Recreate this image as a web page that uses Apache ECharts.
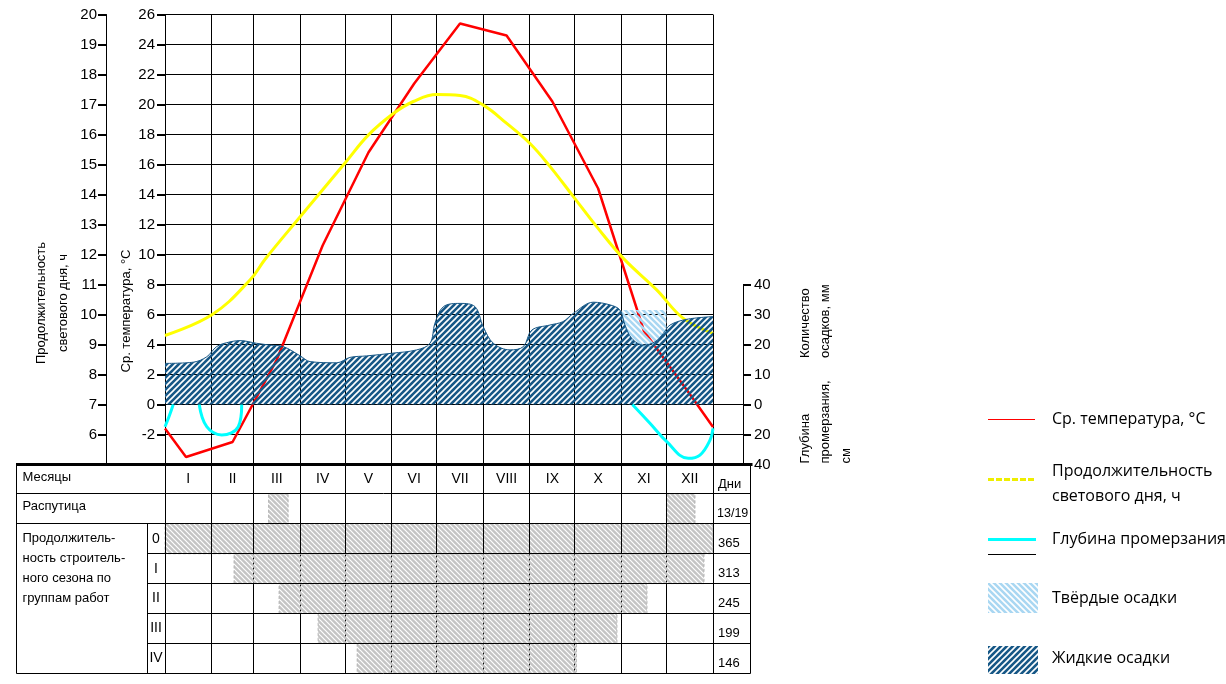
<!DOCTYPE html>
<html><head><meta charset="utf-8">
<script src="https://cdn.jsdelivr.net/npm/echarts@6/dist/echarts.min.js"></script>
<style>html,body{margin:0;padding:0;background:#fff}#c{width:1226px;height:684px}</style>
</head><body><div id="c"></div>
<script>
// ---------------- DATA ----------------
const monthLabels = ['I','II','III','IV','V','VI','VII','VIII','IX','X','XI','XII'];
const monthDays = [31,28,31,30,31,30,31,31,30,31,30,31];

// Average temperature, °C (day of year -> value)
const tempDays   = [0, 14, 45, 74.5, 105, 135.5, 166, 196.5, 227.5, 258, 288.5, 319, 349.5, 365];
const tempValues = [-1.6, -3.5, -2.5, 3.0, 10.6, 16.8, 21.4, 25.4, 24.6, 20.2, 14.4, 4.9, 0.7, -1.5];

// Day length, h
const dayLenDays   = [0, 31.5, 56.6, 66.8, 89.9, 119.9, 135.4, 152.1, 165.4, 181, 196.5, 212, 227.6, 243.1, 256.5, 272, 287.5, 305.3, 327.5, 345.2, 365];
const dayLenValues = [9.3, 10.0, 11.15, 11.85, 13.25, 15.05, 15.98, 16.7, 17.1, 17.33, 17.3, 16.98, 16.37, 15.7, 14.93, 13.93, 12.93, 11.87, 10.82, 9.87, 9.37];

// Liquid precipitation, mm
const precipDays   = [0, 18.8, 27.8, 34.4, 41.1, 50, 61, 70, 78.8, 90.1, 96.6, 114.4, 123.2, 134.3, 151.4, 167.6, 176.5, 179.8, 185.4, 196.5, 206.5, 212, 218.7, 229.8, 238.7, 244.3, 256.4, 265, 272, 285.3, 296.4, 303, 306.4, 310.8, 318.6, 326.4, 331.9, 336.4, 347.5, 365];
const precipValues = [13.7, 14.1, 15.9, 19.3, 20.6, 21.3, 20.4, 19.8, 19.3, 16.2, 14.3, 13.9, 15.7, 16.2, 17.1, 18.2, 20.4, 27.1, 32.6, 33.7, 32.6, 25.9, 20.4, 18.2, 19.3, 24.8, 26.5, 27.6, 30.4, 34.1, 33.2, 31.5, 26.5, 22.1, 19.8, 20.9, 23.7, 26.5, 28.4, 29.3];

// Solid precipitation (November block), mm
const solidDays  = [304, 334];
const solidLevel = [31.5];

// Frost depth, cm (null = no frozen layer shown)
const frostDays   = [0, 2.7, 5.5, 14, 22.8, 27.8, 37.8, 48.8, 51.1, 200, 311.3, 323, 334.2, 348.5, 356.3, 363, 365];
const frostValues = [14.8, 8, 0, null, 0, 14.8, 20.3, 14.8, 0, null, 0, 12.5, 24.8, 35.9, 33.7, 23.7, 15.9];

// Table: thaw season (распутица) and construction season by work groups
const raspStart    = [69, 334];
const raspDuration = [13, 19];
const groupLabels    = ['0','I','II','III','IV'];
const seasonStart    = [0, 46, 76, 102, 128];
const seasonDuration = [365, 313, 245, 199, 146];

// Axis tick values (left axes)
const tempTicks   = [-2, 0, 2, 4, 6, 8, 10, 12, 14, 16, 18, 20, 22, 24, 26];
const dayLenTicks = [6, 7, 8, 9, 10, 11, 12, 13, 14, 15, 16, 17, 18, 19, 20];

// ---------------- LAYOUT ----------------
const P_LEFT = 165, P_RIGHT = 713, P_TOP = 14.5, P_BOTTOM = 464.5;
const T_LEFT = 16, T_RIGHT = 750, T_TOP = 464, T_BOTTOM = 673.3, GROUP_X = 147;
const DAY_AXIS_OFFSET = 59, TICK_LEN = 8;
const W = 1226, H = 684;
const SCALE = (P_RIGHT - P_LEFT) / 365;
const tMin = -(P_LEFT - T_LEFT) / SCALE, tMax = 365 + (T_RIGHT - P_RIGHT) / SCALE;
const FONT = "'Liberation Sans','DejaVu Sans',sans-serif";
const LFONT = "'Open Sans','Noto Sans',sans-serif";

const monthBounds = [0];
monthDays.forEach(d => monthBounds.push(monthBounds[monthBounds.length - 1] + d));
const monthMids = monthLabels.map((m, i) => (monthBounds[i] + monthBounds[i + 1]) / 2);

function hatch(color, dir, size, lw) {
  const c = document.createElement('canvas'); c.width = c.height = size;
  const ctx = c.getContext('2d');
  ctx.fillStyle = color; ctx.fillRect(0, 0, size, size);
  ctx.globalCompositeOperation = 'destination-out';
  ctx.lineWidth = lw; ctx.strokeStyle = '#000'; ctx.beginPath();
  if (dir === '/') {
    ctx.moveTo(-2, 2); ctx.lineTo(2, -2);
    ctx.moveTo(-1, size + 1); ctx.lineTo(size + 1, -1);
    ctx.moveTo(size - 2, size + 2); ctx.lineTo(size + 2, size - 2);
  } else {
    ctx.moveTo(-2, size - 2); ctx.lineTo(2, size + 2);
    ctx.moveTo(-1, -1); ctx.lineTo(size + 1, size + 1);
    ctx.moveTo(size - 2, -2); ctx.lineTo(size + 2, 2);
  }
  ctx.stroke();
  return c;
}
const darkPat  = { image: hatch('#165786', '/', 6, 1.6), repeat: 'repeat' };
const lightPat = { image: hatch('#a9d7f2', '\\', 6, 1.6), repeat: 'repeat' };
const greyPat  = { image: hatch('#c4c4c4', '\\', 5, 1.2), repeat: 'repeat' };

const crisp = v => Math.round(v - 0.5) + 0.5;
function L(x1, y1, x2, y2, w, dash, color) {
  return { type: 'line', shape: { x1, y1, x2, y2 },
    style: { stroke: color || '#000', lineWidth: w || 1, lineDash: dash || null } };
}
function T(x, y, text, align, vAlign, size, extra) {
  return { type: 'text', x, y, style: Object.assign({ text, align: align || 'left',
    verticalAlign: vAlign || 'middle', fontSize: size || 13, fontFamily: FONT, fill: '#000' }, extra || {}) };
}

function liquidAt(d) {
  for (let i = 0; i < precipDays.length - 1; i++) {
    if (d >= precipDays[i] && d <= precipDays[i + 1]) {
      const t = (d - precipDays[i]) / (precipDays[i + 1] - precipDays[i]);
      return precipValues[i] + t * (precipValues[i + 1] - precipValues[i]);
    }
  }
  return precipValues[precipValues.length - 1];
}

const chart = echarts.init(document.getElementById('c'), null, { renderer: 'canvas' });

const axisLbl = () => ({ fontSize: 15, fontFamily: FONT, color: '#000' });
const tick = () => ({ show: true, inside: false, interval: 0, length: TICK_LEN, lineStyle: { color: '#000', width: 2 } });
const axLine = () => ({ show: true, onZero: false, lineStyle: { color: '#000', width: 1 } });

// Left-axis tick marks: positions follow the same linear layout the axes use
const tempMin = -4, tempMax = 26, dayMin = 5, dayMax = 20;
const yOfTemp = v => P_TOP + (tempMax - v) / (tempMax - tempMin) * (P_BOTTOM - P_TOP);
const yOfDay  = v => P_TOP + (dayMax - v) / (dayMax - dayMin) * (P_BOTTOM - P_TOP);
const tickEls = [];
tempTicks.forEach(v => tickEls.push({ type: 'rect', z: 100, shape: { x: P_LEFT - TICK_LEN, y: Math.round(yOfTemp(v)) - 1, width: TICK_LEN, height: 2 }, style: { fill: '#000' } }));
dayLenTicks.forEach(v => tickEls.push({ type: 'rect', z: 100, shape: { x: P_LEFT - DAY_AXIS_OFFSET - TICK_LEN, y: Math.round(yOfDay(v)) - 1, width: TICK_LEN, height: 2 }, style: { fill: '#000' } }));

const legendAndTitles = [
  { type: 'text', x: 52.5, y: 303, rotation: Math.PI / 2,
    style: { text: 'Продолжительность\nсветового дня, ч', align: 'center', verticalAlign: 'middle', lineHeight: 21.6, fontSize: 13, fontFamily: FONT, fill: '#000' } },
  { type: 'text', x: 126.7, y: 311, rotation: Math.PI / 2,
    style: { text: 'Ср. температура, °С', align: 'center', verticalAlign: 'middle', fontSize: 13, fontFamily: FONT, fill: '#000' } },
  { type: 'text', x: 815, y: 358, rotation: Math.PI / 2,
    style: { text: 'Количество\nосадков, мм', align: 'left', verticalAlign: 'middle', lineHeight: 20, fontSize: 13, fontFamily: FONT, fill: '#000' } },
  { type: 'text', x: 825.5, y: 463.5, rotation: Math.PI / 2,
    style: { text: 'Глубина\nпромерзания,\nсм', align: 'left', verticalAlign: 'middle', lineHeight: 20.5, fontSize: 13, fontFamily: FONT, fill: '#000' } },
  { type: 'line', shape: { x1: 988, y1: 419.5, x2: 1035, y2: 419.5 }, style: { stroke: '#ff0000', lineWidth: 1 } },
  { type: 'text', x: 1052, y: 419, style: { text: 'Ср. температура, °С', verticalAlign: 'middle', fontSize: 16, fontFamily: LFONT, fill: '#000' } },
  { type: 'line', shape: { x1: 988, y1: 479.5, x2: 1036, y2: 479.5 }, style: { stroke: '#eeee00', lineWidth: 3, lineDash: [6, 2] } },
  { type: 'text', x: 1052, y: 484, style: { text: 'Продолжительность\nсветового дня, ч', verticalAlign: 'middle', lineHeight: 25, fontSize: 16, fontFamily: LFONT, fill: '#000' } },
  { type: 'line', shape: { x1: 988, y1: 539.5, x2: 1036, y2: 539.5 }, style: { stroke: '#00ffff', lineWidth: 3 } },
  { type: 'line', shape: { x1: 988, y1: 554.5, x2: 1036, y2: 554.5 }, style: { stroke: '#000', lineWidth: 1 } },
  { type: 'text', x: 1052, y: 539, style: { text: 'Глубина промерзания', verticalAlign: 'middle', fontSize: 16, fontFamily: LFONT, fill: '#000' } },
  { type: 'rect', shape: { x: 988, y: 583, width: 50, height: 30 }, style: { fill: lightPat } },
  { type: 'text', x: 1052, y: 598, style: { text: 'Твёрдые осадки', verticalAlign: 'middle', fontSize: 16, fontFamily: LFONT, fill: '#000' } },
  { type: 'rect', shape: { x: 988, y: 646, width: 50, height: 28 }, style: { fill: darkPat } },
  { type: 'text', x: 1052, y: 658, style: { text: 'Жидкие осадки', verticalAlign: 'middle', fontSize: 16, fontFamily: LFONT, fill: '#000' } }
].concat(tickEls);

const option = {
  animation: false,
  backgroundColor: '#fff',
  grid: [
    { left: P_LEFT, right: W - P_RIGHT, top: P_TOP, height: P_BOTTOM - P_TOP, containLabel: false, outerBoundsMode: 'none' },
    { left: P_LEFT, right: W - P_RIGHT, top: 284.5, height: P_BOTTOM - 284.5, containLabel: false, outerBoundsMode: 'none' },
    { left: T_LEFT, right: W - T_RIGHT, top: T_TOP, height: T_BOTTOM - T_TOP, containLabel: false, outerBoundsMode: 'none' }
  ],
  xAxis: [
    { type: 'value', gridIndex: 0, min: 0, max: 365, show: false, axisLine: { onZero: false } },
    { type: 'value', gridIndex: 1, min: 0, max: 365, show: false, axisLine: { onZero: false } },
    { type: 'value', gridIndex: 2, min: tMin, max: tMax, show: false, axisLine: { onZero: false } }
  ],
  yAxis: [
    { type: 'value', gridIndex: 0, position: 'left', min: tempMin, max: tempMax, interval: 2,
      axisLine: axLine(), axisTick: tick(),
      axisLabel: Object.assign({ margin: 10, formatter: v => v === -4 ? '' : (v < 0 ? '-' + (-v) : String(v)) }, axisLbl()),
      splitLine: { show: true, lineStyle: { color: '#000', width: 1 } } },
    { type: 'value', gridIndex: 0, position: 'left', offset: DAY_AXIS_OFFSET, min: dayMin, max: dayMax, interval: 1,
      axisLine: axLine(), axisTick: tick(),
      axisLabel: Object.assign({ margin: 9, formatter: v => v === 5 ? '' : String(v) }, axisLbl()),
      splitLine: { show: false } },
    { type: 'value', gridIndex: 1, position: 'right', offset: 30, min: -20, max: 40, interval: 10,
      axisLine: axLine(), axisTick: tick(),
      axisLabel: Object.assign({ margin: 11, formatter: v => String(v < 0 ? -2 * v : v) }, axisLbl()),
      splitLine: { show: false } },
    { type: 'value', gridIndex: 1, position: 'right', inverse: true, min: -80, max: 40, show: false, axisLine: { onZero: false }, splitLine: { show: false } },
    { type: 'value', gridIndex: 2, inverse: true, min: 0, max: 7, show: false, axisLine: { onZero: false }, splitLine: { show: false } }
  ],
  series: [
    { // month grid lines in the chart
      type: 'custom', name: 'monthGrid', xAxisIndex: 0, yAxisIndex: 0, silent: true, z: 1,
      data: monthBounds.map(d => [d]), encode: { x: 0 }, clip: false,
      renderItem: (params, api) => {
        const d = api.value(0);
        const a = api.coord([d, 26]), b = api.coord([d, -4]);
        const ch = [L(crisp(a[0]), a[1], crisp(a[0]), b[1])];
        if (d === 365) {
          const y0 = api.coord([d, 0])[1], y2 = api.coord([d, -2])[1];
          ch.push(L(a[0], crisp(y0), a[0] + 30, crisp(y0)));
          ch.push(L(a[0], crisp(y2), a[0] + 30, crisp(y2)));
        }
        return { type: 'group', children: ch };
      }
    },
    {
      type: 'line', name: 'Ср. температура, °С', xAxisIndex: 0, yAxisIndex: 0, z: 2,
      data: tempDays.map((d, i) => [d, tempValues[i]]),
      showSymbol: false, symbol: 'none', smooth: false,
      lineStyle: { color: '#ff0000', width: 2.5 }
    },
    {
      type: 'line', name: 'Продолжительность светового дня, ч', xAxisIndex: 0, yAxisIndex: 1, z: 2,
      data: dayLenDays.map((d, i) => [d, dayLenValues[i]]),
      showSymbol: false, symbol: 'none', smooth: 0.4,
      lineStyle: { color: '#ffff00', width: 3 }
    },
    {
      type: 'custom', name: 'Твёрдые осадки', xAxisIndex: 1, yAxisIndex: 2, z: 3,
      data: [[solidDays[0], solidDays[1], solidLevel[0]]], encode: { x: [0, 1], y: 2 },
      renderItem: (params, api) => {
        const s = api.value(0), e = api.value(1), lv = api.value(2);
        const pts = [api.coord([s, lv]), api.coord([e, lv]), api.coord([e, liquidAt(e) - 1.5])];
        for (let i = precipDays.length - 1; i >= 0; i--) {
          if (precipDays[i] < e && precipDays[i] > s) pts.push(api.coord([precipDays[i], precipValues[i] - 1.5]));
        }
        pts.push(api.coord([s, liquidAt(s) - 1.5]));
        return { type: 'polygon', shape: { points: pts }, style: { fill: lightPat } };
      }
    },
    {
      type: 'line', name: 'Жидкие осадки', xAxisIndex: 1, yAxisIndex: 2, z: 4,
      data: precipDays.map((d, i) => [d, precipValues[i]]),
      showSymbol: false, symbol: 'none', smooth: 0.35,
      lineStyle: { color: '#165786', width: 1 },
      areaStyle: { color: darkPat, opacity: 1 }
    },
    {
      type: 'line', name: 'Глубина промерзания', xAxisIndex: 1, yAxisIndex: 3, z: 5,
      data: frostDays.map((d, i) => [d, frostValues[i] == null ? '-' : frostValues[i]]),
      showSymbol: false, symbol: 'none', smooth: 0.4, connectNulls: false,
      lineStyle: { color: '#00ffff', width: 3 }
    },
    { // table frame under bars
      type: 'custom', name: 'tableUnder', xAxisIndex: 2, yAxisIndex: 4, silent: true, z: 1,
      data: [[0, 0]], encode: { x: 0, y: 1 },
      renderItem: (params, api) => {
        const X = d => crisp(api.coord([d, 0])[0]);
        const Y = r => api.coord([0, r])[1];
        const ch = [];
        monthBounds.forEach(d => ch.push(L(X(d), Y(0), X(d), Y(7))));
        return { type: 'group', children: ch };
      }
    },
    {
      type: 'custom', name: 'Распутица', xAxisIndex: 2, yAxisIndex: 4, z: 2,
      data: raspStart.map((s, i) => [s, s + raspDuration[i], 1]), encode: { x: [0, 1], y: 2 },
      renderItem: barItem
    },
    {
      type: 'custom', name: 'Продолжительность строительного сезона', xAxisIndex: 2, yAxisIndex: 4, z: 2,
      data: seasonStart.map((s, i) => [s, s + seasonDuration[i], 2 + i]), encode: { x: [0, 1], y: 2 },
      renderItem: barItem
    },
    { // table frame over bars + texts
      type: 'custom', name: 'tableOver', xAxisIndex: 2, yAxisIndex: 4, silent: true, z: 3,
      data: [[0, 0]], encode: { x: 0, y: 1 }, clip: false,
      renderItem: (params, api) => {
        const cs = params.coordSys;
        const Lx = crisp(cs.x), Rx = crisp(cs.x + cs.width);
        const X = d => crisp(api.coord([d, 0])[0]);
        const Y = r => crisp(api.coord([0, r])[1]);
        const G = crisp(GROUP_X);
        const ch = [];
        ch.push(L(Lx, Y(1), Rx, Y(1)));
        ch.push(L(Lx, Y(2), Rx, Y(2)));
        for (let r = 3; r <= 6; r++) ch.push(L(G, Y(r), Rx, Y(r)));
        ch.push(L(Lx, Y(7), Rx, Y(7)));
        monthBounds.forEach(d => ch.push(L(X(d), Y(0), X(d), Y(3))));
        ch.push(L(X(0), Y(0), X(0), Y(7)));
        ch.push(L(X(365), Y(0), X(365), Y(7)));
        ch.push(L(Lx, Y(0), Lx, Y(7)));
        ch.push(L(Rx, Y(0), Rx, Y(7)));
        ch.push(L(G, Y(2), G, Y(7)));
        ch.push(L(Lx - 0.5, api.coord([0, 0])[1] + 0.5, Rx + 2, api.coord([0, 0])[1] + 0.5, 3));
        monthLabels.forEach((m, i) => ch.push(T(api.coord([monthMids[i], 0])[0], api.coord([0, 0.5])[1], m, 'center', 'middle', 14)));
        ch.push(T(Lx + 6, api.coord([0, 0.5])[1] - 2, 'Месяцы'));
        ch.push(T(Lx + 6, api.coord([0, 1.5])[1] - 2, 'Распутица'));
        ch.push(T(Lx + 6, api.coord([0, 2])[1] + 4.5, 'Продолжитель-\nность строитель-\nного сезона по\nгруппам работ', 'left', 'top', 13, { lineHeight: 20 }));
        groupLabels.forEach((g, i) => ch.push(T((GROUP_X + api.coord([0, 0])[0]) / 2, api.coord([0, 2.5 + i])[1], g, 'center', 'middle', 14)));
        const xr = api.coord([365, 0])[0] + 5;
        ch.push(T(xr, api.coord([0, 1])[1] - 9, 'Дни'));
        ch.push(T(xr - 1, api.coord([0, 2])[1] - 10, raspDuration[0] + '/' + raspDuration[1], 'left', 'middle', 12.5));
        seasonDuration.forEach((v, i) => ch.push(T(xr, api.coord([0, 3 + i])[1] - 10, String(v))));
        return { type: 'group', children: ch };
      }
    }
  ],
  graphic: { elements: legendAndTitles }
};

function barItem(params, api) {
  const s = api.value(0), e = api.value(1), r = api.value(2);
  const p1 = api.coord([s, r]), p2 = api.coord([e, r + 1]);
  return { type: 'rect', shape: { x: p1[0], y: p1[1], width: p2[0] - p1[0], height: p2[1] - p1[1] },
    style: { fill: greyPat, stroke: '#b4b4b4', lineWidth: 1, lineDash: [3, 2] } };
}

chart.setOption(option);
</script>
</body></html>
